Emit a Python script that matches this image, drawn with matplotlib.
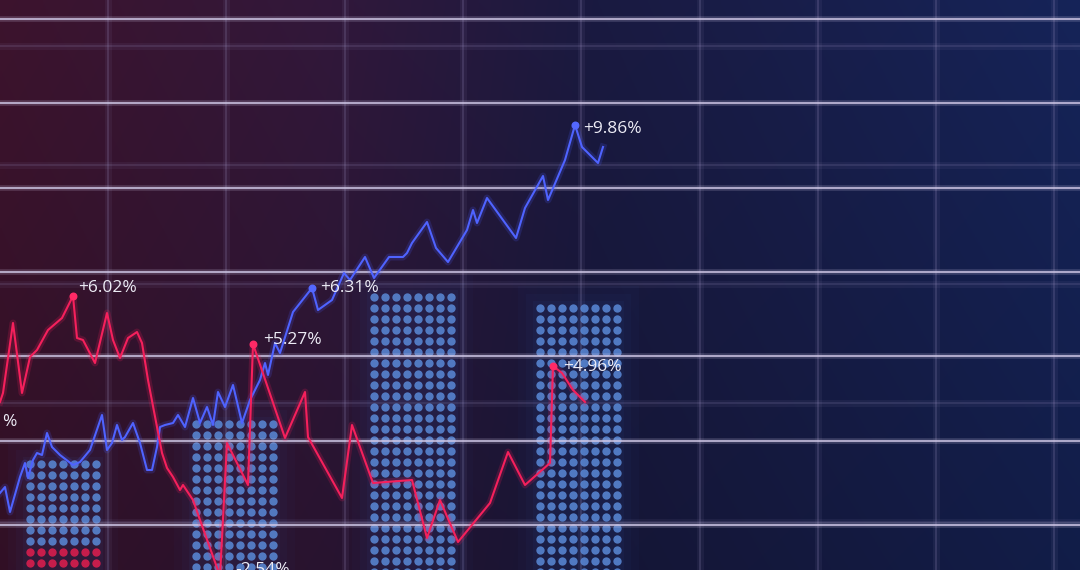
import matplotlib.pyplot as plt
import numpy as np

# blue series (time position, value)
blue_x = [0, 5, 10, 20, 25, 28, 33, 37, 42, 47, 52, 60, 73, 80, 90, 102, 107, 112, 117, 122,
          125, 133, 140, 147, 152, 157, 160, 165, 173, 178, 185, 193, 200, 207, 213, 218, 225,
          233, 242, 250, 260, 265, 268, 275, 280, 293, 312, 318, 332, 344, 350, 365, 374, 389,
          403, 407, 412, 427, 436, 448, 467, 473, 477, 487, 516, 525, 543, 548, 565, 575, 582,
          598, 603]
blue_y = [77, 83, 58, 93, 107, 92, 110, 117, 115, 137, 123, 115, 105, 108, 120, 155, 120, 127,
          145, 130, 133, 147, 127, 100, 100, 123, 143, 145, 147, 155, 143, 172, 147, 163, 145,
          178, 163, 185, 147, 170, 190, 207, 195, 227, 217, 258, 282, 260, 270, 297, 290, 313,
          292, 313, 313, 317, 327, 348, 322, 308, 340, 360, 347, 372, 332, 362, 394, 370, 410,
          445, 423, 407, 423]

# red series
red_x = [0, 3, 13, 22, 30, 37, 48, 62, 73, 77, 83, 95, 107, 113, 120, 128, 137, 142, 148, 157,
         162, 167, 173, 180, 183, 193, 200, 220, 227, 248, 253, 285, 305, 308, 342, 352, 373,
         412, 427, 440, 458, 490, 508, 525, 550, 553, 562, 573, 585]
red_y = [168, 177, 247, 177, 213, 220, 240, 252, 274, 232, 230, 207, 257, 230, 212, 232, 238,
         227, 190, 143, 117, 102, 93, 80, 85, 70, 50, -6, 127, 85, 226, 132, 178, 133, 72, 145,
         87, 90, 32, 70, 28, 67, 118, 85, 107, 204, 197, 180, 168]

# highlighted points
blue_marks_x = [312, 575]
blue_marks_y = [282, 445]
blue_labels = ['+6.31%', '+9.86%']
red_marks_x = [73, 253, 553, 220]
red_marks_y = [274, 226, 204, -6]
red_labels = ['+6.02%', '+5.27%', '+4.96%', '-2.54%']

# dotted volume columns
bar_centers = [63, 234, 412, 578]
bar_cols = [7, 8, 8, 8]
bar_tops = [106, 146, 273, 262]
bar_red_tops = [28, -20, -20, -20]

W, H = 1080, 570
fig = plt.figure(figsize=(10.8, 5.7), dpi=100)
ax = fig.add_axes([0, 0, 1, 1])
ax.set_xlim(0, W)
ax.set_ylim(0, H)
ax.axis('off')

# background gradient
fx = np.linspace(0, 1, 400)
stops = [0, 0.3, 0.55, 1]
cols = np.array([[56, 18, 42], [46, 22, 54], [24, 24, 60], [20, 33, 82]]) / 255
grad = np.stack([np.interp(fx, stops, cols[:, c]) for c in range(3)], axis=-1)
fy = np.linspace(0.88, 1.08, 200)[:, None, None]
bg = np.clip(grad[None, :, :] * fy, 0, 1)
ax.imshow(bg, extent=[0, W, 0, H], aspect='auto', origin='lower', zorder=0)

# dim square grid
for gx in np.arange(108, W, 118.3):
    ax.axvline(gx, color='#9a8fc0', alpha=0.08, lw=5, zorder=1)
    ax.axvline(gx, color='#9a8fc0', alpha=0.20, lw=1.5, zorder=1)
for gy in np.arange(48, H, 119):
    ax.axhline(gy, color='#9a8fc0', alpha=0.08, lw=5, zorder=1)
    ax.axhline(gy, color='#9a8fc0', alpha=0.16, lw=1.5, zorder=1)

# dotted columns
step = 11
for cx, n, top, rtop in zip(bar_centers, bar_cols, bar_tops, bar_red_tops):
    xs = cx + (np.arange(n) - (n - 1) / 2) * step
    ys = np.arange(top, -12, -step)
    gx, gy = np.meshgrid(xs, ys)
    gx, gy = gx.ravel(), gy.ravel()
    red = gy <= rtop
    for pad, a in [(22, 0.03), (14, 0.04), (7, 0.06)]:
        ax.add_patch(plt.Rectangle((xs[0] - pad, -10), xs[-1] - xs[0] + 2 * pad, top + 10 + pad,
                                   color='#3a6cc8', alpha=a, lw=0, zorder=2))
    ax.scatter(gx[~red], gy[~red], s=36, color='#5a8ad8', alpha=0.85, lw=0, zorder=3)
    ax.scatter(gx[red], gy[red], s=36, color='#d81e4e', alpha=0.9, lw=0, zorder=3)

# bright horizontal lines
for hy in np.arange(45, H, 84.3):
    ax.axhline(hy, color='#d8d0ee', alpha=0.2, lw=4, zorder=4)
    ax.axhline(hy, color='#cfc7e6', alpha=0.8, lw=1.4, zorder=4)

# series with glow
ax.plot(blue_x, blue_y, color='#4b5cff', lw=5, alpha=0.18, zorder=5)
ax.plot(blue_x, blue_y, color='#4f63ff', lw=1.5, zorder=6)
ax.plot(red_x, red_y, color='#ff1e5e', lw=5, alpha=0.18, zorder=5)
ax.plot(red_x, red_y, color='#f5205c', lw=1.5, zorder=6)

ax.scatter(blue_marks_x, blue_marks_y, s=22, color='#5468ff', zorder=7)
ax.scatter(red_marks_x, red_marks_y, s=22, color='#ff2a66', zorder=7)

font = dict(family=['Open Sans', 'DejaVu Sans'], fontsize=12.5, color='#ecebf5', va='center')
blue_off = [(6, 0), (6, -3)]
red_off = [(4, 6), (7, 3), (7, -1), (11, 4)]
for x, y, lab, off in zip(blue_marks_x, blue_marks_y, blue_labels, blue_off):
    ax.annotate(lab, (x, y), xytext=off, textcoords='offset points', zorder=8, **font)
for x, y, lab, off in zip(red_marks_x, red_marks_y, red_labels, red_off):
    ax.annotate(lab, (x, y), xytext=off, textcoords='offset points', zorder=8,
                annotation_clip=False, **font)
# only the end of this label is in view
ax.text(2, 148, '%', ha='left', zorder=8, **font)

fig.savefig('out.png', dpi=100)
